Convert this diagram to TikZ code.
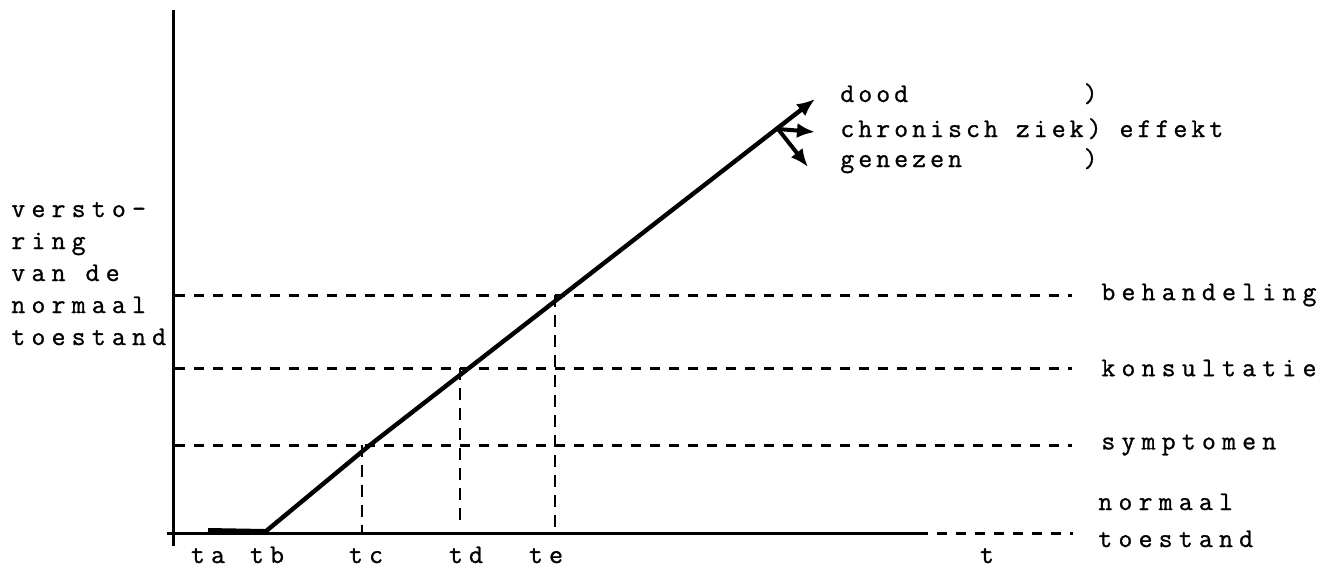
\documentclass[tikz,border=0pt]{standalone}
\usepackage{fontspec}
\usetikzlibrary{arrows.meta}
\newfontfamily\twAf{lmmono12-regular.otf}[LetterSpace=23,FakeBold=1]
\newfontfamily\twBf{lmmono12-regular.otf}[LetterSpace=15,FakeBold=1]
\newcommand\twA{\twAf\fontsize{13.5}{16}\selectfont}
\newcommand\twB{\twBf\fontsize{13.5}{16}\selectfont}
\begin{document}
\begin{tikzpicture}[x=0.5pt,y=-0.5pt,
  lbl/.style={font=\twA, inner sep=0pt},
  lblt/.style={font=\twB, inner sep=0pt},
  axisline/.style={line width=1.5pt},
  dashline/.style={line width=1.5pt, dash pattern=on 5pt off 4.5pt},
  vdash/.style={line width=1.4pt, dash pattern=on 6pt off 4pt},
  curve/.style={line width=2.2pt, line cap=round},
  tip/.style={-{Latex[length=9pt,width=7.5pt]}}
]
\useasboundingbox (0,0) rectangle (1330,569);
% coordinates
\coordinate (ytop) at (173,10);
\coordinate (ybot) at (173,546);
\coordinate (xl) at (167,533);
\coordinate (xs) at (918,533);
\coordinate (xe) at (1073,533);
\coordinate (ta) at (208,531);
\coordinate (tb) at (265,532);
\coordinate (pc) at (370,445);
\coordinate (tipA) at (815,99);
\coordinate (br) at (778,129);
\coordinate (tipB) at (815,132);
\coordinate (tipC) at (808,167);
% axes
\draw[axisline] (ytop) -- (ybot);
\draw[axisline] (xl) -- (xs);
\draw[dashline] (xs) -- (xe);
\draw[line width=3pt] (ta) -- (tb);
% horizontal dashed levels
\coordinate (h1a) at (175,295); \coordinate (h1b) at (1072,295);
\coordinate (h2a) at (175,368); \coordinate (h2b) at (1072,368);
\coordinate (h3a) at (175,445); \coordinate (h3b) at (1072,445);
\draw[dashline] (h1a) -- (h1b);
\draw[dashline] (h2a) -- (h2b);
\draw[dashline] (h3a) -- (h3b);
% vertical dashed
\coordinate (vc1) at (362,445); \coordinate (vc2) at (362,533);
\coordinate (vd1) at (460,368); \coordinate (vd2) at (460,527);
\coordinate (ve1) at (555,295); \coordinate (ve2) at (555,527);
\draw[vdash] (vc1) -- (vc2);
\draw[vdash] (vd1) -- (vd2);
\draw[vdash] (ve1) -- (ve2);
% main line
\draw[curve,tip] (tb) -- (pc) -- (tipA);
\draw[line width=2pt,tip] (br) -- (tipB);
\draw[line width=2pt,tip] (br) -- (tipC);
% effect labels
\node[lblt,anchor=base west] (dood) at (840,102) {\rlap{dood}\phantom{chronisch ziek})};
\node[lblt,anchor=base west] (chron) at (840,137) {chronisch ziek) effekt};
\node[lblt,anchor=base west] (gen) at (840,167) {\rlap{genezen}\phantom{chronisch ziek})};
% level labels
\node[lbl,anchor=west] (beh) at (1101,295) {behandeling};
\node[lbl,anchor=west] (kon) at (1101,368) {konsultatie};
\node[lbl,anchor=west] (sym) at (1101,445) {symptomen};
\node[lbl,anchor=base west] (nor1) at (1098,510) {normaal};
\node[lbl,anchor=base west] (nor2) at (1098,547) {toestand};
% y label
\node[lbl,anchor=base west] (y1) at (11,217) {versto-};
\node[lbl,anchor=base west] (y2) at (11,249) {ring};
\node[lbl,anchor=base west] (y3) at (11,281) {van de};
\node[lbl,anchor=base west] (y4) at (11,313) {normaal};
\node[lbl,anchor=base west] (y5) at (11,345) {toestand};
% tick labels
\node[lbl,anchor=base] (lta) at (208,563) {ta};
\node[lbl,anchor=base] (ltb) at (267,563) {tb};
\node[lbl,anchor=base] (ltc) at (366,563) {tc};
\node[lbl,anchor=base] (ltd) at (466,563) {td};
\node[lbl,anchor=base] (lte) at (546,563) {te};
\node[lbl,anchor=base] (lt) at (987,563) {t};
\end{tikzpicture}
\end{document}
